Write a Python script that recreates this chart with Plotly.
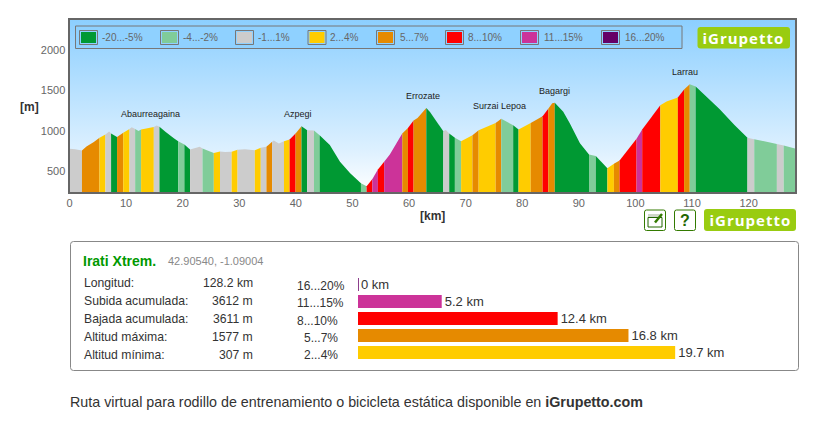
import plotly.graph_objects as go

W, H = 817, 430
FONT = "Liberation Sans"

# elevation profile
profile_km = [0, 1, 2.2, 3, 4.3, 5.3, 6.35, 7, 7.35, 8.4, 9.5, 10.6, 11, 11.6, 12.2, 12.65, 14.9, 15.4, 15.9, 17,
              18.5, 19.2, 20.3, 21.3, 23, 23.5, 25.5, 26.6, 27.5, 28.65, 29.7, 31, 32.75, 33.8, 34.8, 35.8, 36.1, 37,
              37.9, 38.9, 39.95, 41, 42, 43.2, 44.2, 46, 47.8, 49.6, 51.5, 52.5, 53.5, 54.5, 55.6, 56.6, 58.8, 59.8,
              60.8, 61.5, 63.05, 63.7, 66.05, 66.5, 67.1, 68.1, 69.2, 71.2, 72.3, 75.3, 76.3, 78.4, 79.35, 81.5, 83.6,
              84.6, 85.3, 85.75, 87.25, 88.4, 90.2, 91.8, 93, 95.05, 96.2, 97.2, 100.2, 101.2, 104.4, 105.5, 107.5,
              108.6, 109.6, 110.65, 114.9, 117.5, 119.8, 121, 125, 126.2, 128.2]
profile_alt = [775, 770, 755, 805, 860, 911, 952, 989, 965, 923, 973, 1022, 1042, 1020, 995, 1014, 1047, 1063, 1050,
               985, 903, 870, 829, 767, 800, 780, 722, 742, 735, 738, 763, 771, 759, 788, 800, 862, 878, 840, 870, 890,
               964, 1055, 1005, 1001, 944, 822, 615, 471, 348, 310, 397, 520, 615, 705, 964, 1034, 1125, 1157, 1280,
               1232, 993, 1010, 964, 911, 870, 944, 1005, 1096, 1149, 1067, 1014, 1096, 1178, 1273, 1340, 1347, 1235,
               1091, 843, 705, 685, 533, 590, 632, 899, 1014, 1314, 1363, 1412, 1511, 1577, 1548, 1265, 1070, 913, 895,
               835, 815, 780]

# gradient classes
class_names = ["-20...-5%", "-4...-2%", "-1...1%", "2...4%", "5...7%", "8...10%", "11...15%", "16...20%"]
class_colors = ["#009933", "#80cc99", "#cccccc", "#ffcc00", "#e68a00", "#ff0000", "#cc3399", "#660066"]

# stretches of road: where each one starts, and its class (index in class_names)
band_start = [0, 2.2, 5.3, 6.35, 7.35, 8.4, 9.5, 10.6, 11.6, 12.65, 14.9, 15.9, 19.2, 20.3, 21.3, 23.5, 25.5, 26.6,
              28.65, 29.7, 32.75, 33.8, 34.8, 35.8, 37.9, 38.9, 39.95, 41, 42, 43.2, 44.2, 51.5, 52.5, 53.5, 54.5,
              55.6, 58.8, 59.8, 60.8, 63.05, 66.05, 67.1, 68.1, 69.2, 71.2, 72.3, 75.3, 76.3, 78.4, 79.35, 81.5, 83.6,
              84.6, 85.75, 91.8, 93, 95.05, 96.2, 97.2, 100.2, 101.2, 104.4, 107.5, 108.6, 109.6, 110.65, 119.8, 121,
              125, 126.2]
band_class = [2, 4, 3, 2, 0, 4, 3, 2, 1, 3, 2, 0, 1, 0, 2, 1, 3, 2,
              3, 2, 3, 2, 4, 2, 3, 5, 4, 0, 2, 1, 0, 1, 5, 6, 5,
              6, 4, 5, 4, 0, 2, 0, 1, 3, 4, 3, 4, 1, 0, 3, 4, 5,
              4, 0, 1, 0, 3, 4, 5, 6, 5, 3, 5, 4, 1, 0, 2, 1,
              2, 1]

# named climbs
peak_names = ["Abaurreagaina", "Azpegi", "Errozate", "Surzai Lepoa", "Bagargi", "Larrau"]
peak_km = [14.4, 40.4, 62.5, 75.9, 85.7, 108.8]
peak_alt = [1207, 1210, 1430, 1310, 1495, 1730]

# km per gradient class, steepest first
bar_labels = ["16...20%", "11...15%", "8...10%", "5...7%", "2...4%"]
bar_km = [0, 5.2, 12.4, 16.8, 19.7]
bar_colors = ["#660066", "#cc3399", "#ff0000", "#e68a00", "#ffcc00"]

stat_names = ["Longitud:", "Subida acumulada:", "Bajada acumulada:", "Altitud máxima:", "Altitud mínima:"]
stat_values = ["128.2 km", "3612 m", "3611 m", "1577 m", "307 m"]


def px(x):
    return x / W


def py(y):
    return 1 - y / H


def box(x0, y0, x1, y1, r=0, **kw):
    # rectangle given in page pixels, optionally with rounded corners
    if r:
        path = (f"M{px(x0 + r)},{py(y0)} L{px(x1 - r)},{py(y0)} Q{px(x1)},{py(y0)} {px(x1)},{py(y0 + r)} "
                f"L{px(x1)},{py(y1 - r)} Q{px(x1)},{py(y1)} {px(x1 - r)},{py(y1)} "
                f"L{px(x0 + r)},{py(y1)} Q{px(x0)},{py(y1)} {px(x0)},{py(y1 - r)} "
                f"L{px(x0)},{py(y0 + r)} Q{px(x0)},{py(y0)} {px(x0 + r)},{py(y0)} Z")
        return dict(type="path", path=path, xref="paper", yref="paper", **kw)
    return dict(type="rect", x0=px(x0), x1=px(x1), y0=py(y0), y1=py(y1), xref="paper", yref="paper", **kw)


def label(x, y, text, size=12, color="#333333", anchor="left", **kw):
    # annotations carry about 2px of padding around the text
    x += {"left": -2, "right": 2}.get(anchor, 0)
    return dict(x=px(x), y=py(y), xref="paper", yref="paper", text=text, showarrow=False, xanchor=anchor,
                yanchor="middle", align=anchor, font=dict(family=FONT, size=size, color=color), **kw)


fig = go.Figure()

# sky
fig.add_trace(go.Scatter(x=[0, 128.2], y=[2372, 2372], mode="none", fill="tozeroy", hoverinfo="skip",
                         fillgradient=dict(type="vertical", start=240, stop=2372,
                                           colorscale=[[0, "#ffffff"], [0.25, "#dcf0ff"], [1, "#8ccfff"]])))

band_end = band_start[1:] + [profile_km[-1]]
for start, end, cls in zip(band_start, band_end, band_class):
    pts = [(k, a) for k, a in zip(profile_km, profile_alt) if start <= k <= end]
    fig.add_trace(go.Scatter(x=[p[0] for p in pts], y=[p[1] for p in pts], mode="none", fill="tozeroy",
                             fillcolor=class_colors[cls], name=class_names[cls], hoverinfo="skip"))

fig.add_trace(go.Bar(x=bar_km, y=bar_labels, orientation="h", xaxis="x2", yaxis="y2", width=13 / 17,
                     marker=dict(color=bar_colors, line=dict(color=bar_colors, width=[1, 0, 0, 0, 0])),
                     text=[f"{v:g} km" for v in bar_km], textposition="outside", cliponaxis=False,
                     constraintext="none",
                     textfont=dict(family=FONT, size=13, color="#333333"), hoverinfo="skip"))

shapes = []
annotations = []

# legend strip
shapes.append(box(75.5, 26, 682, 48.5, fillcolor="#8fd1ff", line=dict(color="#777777", width=1)))
legend_left = [79.5, 160.5, 235.5, 308, 376.5, 445.5, 520.5, 601.5]
legend_text = [101.5, 183, 258, 330, 399.5, 468, 543.5, 624.5]
for x, tx, name, color in zip(legend_left, legend_text, class_names, class_colors):
    shapes.append(box(x, 30.5, x + 18, 44.5, fillcolor="#8fd1ff", line=dict(color="#777777", width=1)))
    shapes.append(box(x + 1.5, 32, x + 16.5, 43, fillcolor=color, line=dict(width=0)))
    annotations.append(label(tx, 37.5, name, size=10, color="#666666"))

# logos
for x0, y0, x1, y1 in [(697.5, 27, 790, 48.5), (704, 209, 796, 231)]:
    shapes.append(box(x0, y0, x1, y1, r=3, fillcolor="#99cc11", line=dict(width=0)))
    annotations.append(label((x0 + x1) / 2, (y0 + y1) / 2, "<b>iGrupetto</b>", size=15, color="#ffffff",
                             anchor="center"))
    annotations[-1]["font"]["family"] = "Open Sans"

# small buttons under the chart
for x0 in (644.5, 674.5):
    shapes.append(box(x0, 210, x0 + 21, 230.5, r=2, fillcolor="#ffffff", line=dict(color="#337a00", width=1)))
shapes.append(box(648, 214, 662, 217.5, fillcolor="#cfd8c8", line=dict(width=0)))
shapes.append(box(648, 217.5, 662, 227, line=dict(color="#226600", width=1)))
shapes.append(dict(type="line", x0=px(655), y0=py(222.5), x1=px(662), y1=py(214), xref="paper", yref="paper",
                   line=dict(color="#337a00", width=2.5)))
annotations.append(label(685, 220, "<b>?</b>", size=16, color="#226600", anchor="center"))

# axis titles
annotations.append(label(29, 107, "<b>[m]</b>", size=12, anchor="center"))
annotations.append(label(432, 216, "<b>[km]</b>", size=12, anchor="center"))

# climb names
for name, km, alt in zip(peak_names, peak_km, peak_alt):
    annotations.append(dict(x=km, y=alt, xref="x", yref="y", text=name, showarrow=False,
                            font=dict(family=FONT, size=9, color="#222222")))

# info panel
shapes.append(box(70.5, 241.5, 798.5, 370.5, r=3, line=dict(color="#888888", width=1)))
annotations.append(label(83, 260.5, "<b>Irati Xtrem.</b>", size=14, color="#009900"))
annotations.append(label(168, 261, "42.90540, -1.09004", size=11, color="#888888"))
for y, name, value in zip([283, 301, 319, 337, 355], stat_names, stat_values):
    annotations.append(label(84, y, name, size=12.2))
    annotations.append(label(253, y, value, size=12.2, anchor="right"))
for x, y, name in zip([296.5, 296.5, 297, 304, 304], [286, 303, 321, 338, 355], bar_labels):
    annotations.append(label(x, y, name))

annotations.append(label(70, 402, "Ruta virtual para rodillo de entrenamiento o bicicleta estática disponible en "
                                  "<b>iGrupetto.com</b>", size=14.3))

fig.update_layout(
    width=W, height=H, margin=dict(l=0, r=0, t=0, b=0, autoexpand=False), showlegend=False, autosize=False,
    paper_bgcolor="#ffffff", plot_bgcolor="#ffffff", font=dict(family=FONT),
    shapes=shapes, annotations=annotations,
    xaxis=dict(domain=[px(69.5), px(795)], range=[0, 128.2], tickvals=list(range(0, 130, 10)), showgrid=False,
               zeroline=False, ticks="", showline=True, mirror=True, linecolor="#666666", linewidth=2,
               tickfont=dict(size=11, color="#666666", family=FONT), fixedrange=True),
    yaxis=dict(domain=[py(192), py(20)], range=[240, 2372], tickvals=[500, 1000, 1500, 2000], showgrid=False,
               zeroline=False, ticks="", showline=True, mirror=True, linecolor="#666666", linewidth=2,
               tickfont=dict(size=11, color="#666666", family=FONT), fixedrange=True),
    xaxis2=dict(domain=[px(358), px(798)], range=[0, 440 / 16.1], anchor="y2", visible=False, fixedrange=True),
    yaxis2=dict(domain=[py(361), py(276)], anchor="x2", categoryorder="array", categoryarray=bar_labels[::-1],
                visible=False, fixedrange=True),
)

fig.write_html("out.html", config=dict(displayModeBar=False), post_script="""
document.body.style.margin = '0';
document.querySelectorAll('.annotation-text').forEach(function (t) {
    if (t.textContent === 'iGrupetto') { t.style.letterSpacing = '1px'; }
});
""")
